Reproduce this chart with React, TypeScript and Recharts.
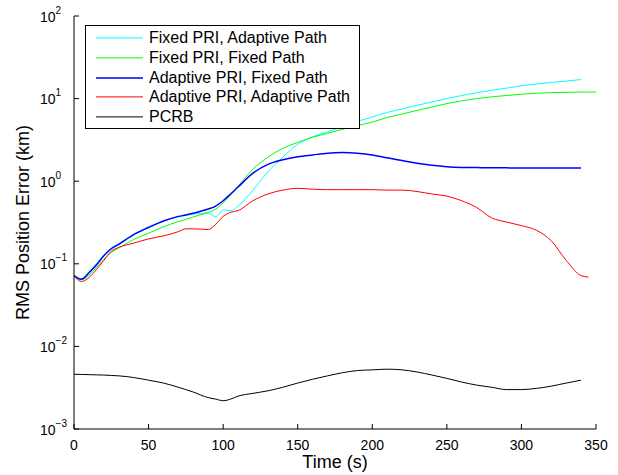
import { LineChart, Line, XAxis, YAxis, Label } from 'recharts'

const FONT = 'Arial, "Liberation Sans", Helvetica, sans-serif'

// time grid (s)
const time = [
  0, 5, 10, 15, 20, 25, 30, 40, 50, 60, 70, 75, 80, 90, 95, 100, 105, 110, 120, 130, 140,
  150, 160, 170, 180, 190, 200, 210, 220, 230, 240, 250, 260, 270, 280, 290, 300, 310,
  320, 330, 340, 345, 350,
]

// RMS position error (km)
const fixedPriAdaptivePath = [
  0.072, 0.066, 0.08, 0.1, 0.128, 0.155, 0.175, 0.228, 0.28, 0.33, 0.37, 0.385, 0.4, 0.41,
  0.37, 0.45, 0.44, 0.5, 0.78, 1.3, 1.95, 2.8, 3.45, 3.95, 4.6, 5.3, 6.0, 6.8, 7.5, 8.3,
  9.1, 10.0, 10.9, 11.8, 12.6, 13.4, 14.3, 15.0, 15.7, 16.3, 17.0, null, null,
]
const fixedPriFixedPath = [
  0.07, 0.064, 0.073, 0.09, 0.113, 0.137, 0.155, 0.197, 0.235, 0.28, 0.325, 0.345, 0.37,
  0.42, 0.46, 0.55, 0.68, 0.87, 1.4, 1.95, 2.5, 2.95, 3.4, 3.8, 4.25, 4.7, 5.2, 5.9, 6.5,
  7.2, 7.9, 8.7, 9.4, 10.0, 10.5, 10.9, 11.3, 11.6, 11.8, 11.9, 12.0, 12.0, 12.0,
]
const adaptivePriFixedPath = [
  0.072, 0.065, 0.078, 0.097, 0.125, 0.152, 0.172, 0.225, 0.275, 0.33, 0.375, 0.39, 0.41,
  0.46, 0.5, 0.58, 0.7, 0.85, 1.25, 1.6, 1.82, 1.98, 2.08, 2.18, 2.22, 2.18, 2.08, 1.92,
  1.78, 1.65, 1.56, 1.5, 1.47, 1.46, 1.45, 1.45, 1.445, 1.44, 1.44, 1.44, 1.44, null, null,
]
const adaptivePriAdaptivePath = [
  0.072, 0.061, 0.068, 0.085, 0.11, 0.142, 0.158, 0.178, 0.2, 0.218, 0.245, 0.265, 0.265,
  0.26, 0.3, 0.375, 0.42, 0.44, 0.58, 0.7, 0.78, 0.82, 0.8, 0.79, 0.79, 0.79, 0.79, 0.78,
  0.78, 0.75, 0.7, 0.66, 0.58, 0.48, 0.36, 0.32, 0.29, 0.255, 0.19, 0.11, 0.072, 0.069, null,
]
const pcrb = [
  0.0046, 0.00458, 0.00455, 0.00452, 0.0045, 0.00445, 0.0044, 0.0042, 0.0039, 0.0036,
  0.0032, 0.003, 0.0028, 0.0024, 0.0023, 0.0022, 0.0023, 0.0025, 0.0027, 0.0029, 0.0032,
  0.0036, 0.004, 0.0044, 0.0048, 0.0051, 0.0052, 0.0053, 0.0052, 0.0049, 0.0045, 0.0041,
  0.0037, 0.0034, 0.0032, 0.003, 0.003, 0.0031, 0.0033, 0.0036, 0.0039, null, null,
]

const xTicks = [0, 50, 100, 150, 200, 250, 300, 350]
const yTicks = [0.001, 0.01, 0.1, 1, 10, 100]
const yMinorTicks = yTicks.slice(0, -1).flatMap((d) =>
  [2, 3, 4, 5, 6, 7, 8, 9].map((m) => +(m * d).toPrecision(3))
)

const series = [
  { key: 'fpap', name: 'Fixed PRI, Adaptive Path', color: '#00ffff', width: 1, values: fixedPriAdaptivePath },
  { key: 'fpfp', name: 'Fixed PRI, Fixed Path', color: '#00ff00', width: 1, values: fixedPriFixedPath },
  { key: 'apfp', name: 'Adaptive PRI, Fixed Path', color: '#0000ff', width: 1.5, values: adaptivePriFixedPath },
  { key: 'apap', name: 'Adaptive PRI, Adaptive Path', color: '#ff0000', width: 1, values: adaptivePriAdaptivePath },
  { key: 'pcrb', name: 'PCRB', color: '#000000', width: 1, values: pcrb },
]

const data = time.map((t, i) => {
  const row: Record<string, number | null> = { t }
  series.forEach((s) => {
    row[s.key] = s.values[i]
  })
  return row
})

const NoTick = () => <g />

const XTick = ({ x, y, payload }: any) => (
  <text x={x} y={y + 20.5} textAnchor="middle" fontSize={14} fontFamily={FONT} fill="#000">
    {payload.value}
  </text>
)

const YTick = ({ x, y, payload }: any) => {
  const exp = Math.round(Math.log10(payload.value))
  return (
    <text x={x} y={y + 5.5} textAnchor="start" fontSize={14} fontFamily={FONT} fill="#000">
      10
      <tspan dy={-8} fontSize={10}>
        {exp < 0 ? `\u2212${-exp}` : exp}
      </tspan>
    </text>
  )
}

const YTitle = ({ viewBox }: any) => {
  const cx = viewBox.x + 4.5
  const cy = viewBox.y + viewBox.height / 2
  return (
    <text
      x={cx}
      y={cy}
      transform={`rotate(-90 ${cx} ${cy})`}
      textAnchor="middle"
      fontSize={18}
      fontFamily={FONT}
      fill="#000"
    >
      RMS Position Error (km)
    </text>
  )
}

const XTitle = ({ viewBox }: any) => (
  <text
    x={viewBox.x + viewBox.width / 2}
    y={viewBox.y + 38.5}
    textAnchor="middle"
    fontSize={18}
    fontFamily={FONT}
    fill="#000"
  >
    Time (s)
  </text>
)

function ChartLegend() {
  return (
    <div
      style={{
        position: 'absolute',
        left: 85,
        top: 25,
        width: 275,
        height: 104,
        boxSizing: 'border-box',
        border: '1px solid #000',
        background: '#fff',
        paddingTop: 2,
        fontFamily: FONT,
        fontSize: 16,
      }}
    >
      {series.map((s) => (
        <div key={s.key} style={{ display: 'flex', alignItems: 'center', height: 19.8 }}>
          <svg width={63} height={19.8} style={{ display: 'block' }}>
            <line x1={10} x2={57} y1={9.9} y2={9.9} stroke={s.color} strokeWidth={s.width} />
          </svg>
          <span style={{ color: '#000', whiteSpace: 'nowrap', lineHeight: '19.8px' }}>{s.name}</span>
        </div>
      ))}
    </div>
  )
}

export default function App() {
  const logProps = {
    type: 'number' as const,
    scale: 'log' as const,
    domain: [0.001, 100],
    allowDataOverflow: true,
    interval: 0 as const,
    stroke: '#000',
  }
  return (
    <div style={{ position: 'absolute', left: 0, top: 0, width: 618, height: 475, background: '#fff' }}>
      <LineChart width={618} height={475} data={data} margin={{ top: 16, right: 22, bottom: 16, left: 24 }}>
        <XAxis
          dataKey="t"
          type="number"
          domain={[0, 350]}
          ticks={xTicks}
          interval={0}
          height={30}
          stroke="#000"
          tickSize={-5}
          tickMargin={5}
          tick={XTick}
        >
          <Label content={XTitle} />
        </XAxis>
        <XAxis
          xAxisId="top"
          orientation="top"
          type="number"
          domain={[0, 350]}
          ticks={xTicks}
          interval={0}
          height={0}
          stroke="#000"
          tickSize={-5}
          tick={NoTick}
        />
        <YAxis {...logProps} ticks={yTicks} width={50} tickSize={-5} tickMargin={39} tick={YTick}>
          <Label content={YTitle} />
        </YAxis>
        <YAxis {...logProps} yAxisId="minorL" ticks={yMinorTicks} width={0} tickSize={-3} axisLine={false} tick={NoTick} />
        <YAxis {...logProps} yAxisId="right" orientation="right" ticks={yTicks} width={0} tickSize={-5} tick={NoTick} />
        <YAxis {...logProps} yAxisId="minorR" orientation="right" ticks={yMinorTicks} width={0} tickSize={-3} axisLine={false} tick={NoTick} />
        {series.map((s) => (
          <Line
            key={s.key}
            dataKey={s.key}
            name={s.name}
            type="monotone"
            stroke={s.color}
            strokeWidth={s.width}
            dot={false}
            activeDot={false}
            isAnimationActive={false}
          />
        ))}
      </LineChart>
      <ChartLegend />
    </div>
  )
}
